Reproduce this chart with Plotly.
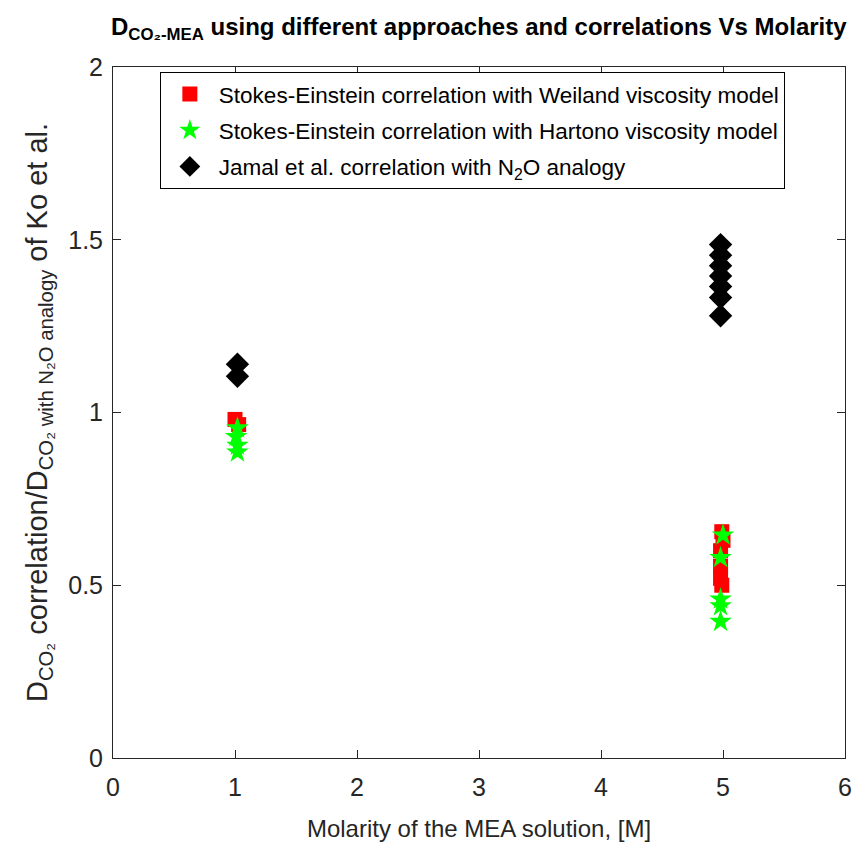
import plotly.graph_objects as go

# Diffusivity ratio of CO2 in MEA, by solution molarity
weiland_molarity = [1.00, 1.03, 4.99, 5.00, 4.98, 4.98, 4.98, 4.99]
weiland_ratio = [0.980, 0.965, 0.655, 0.630, 0.600, 0.555, 0.520, 0.500]

hartono_molarity = [1.02, 1.01, 1.02, 1.02, 5.00, 4.98, 4.98, 4.98, 4.98]
hartono_ratio = [0.955, 0.930, 0.905, 0.885, 0.645, 0.580, 0.460, 0.440, 0.395]

jamal_molarity = [1.02, 1.02, 4.98, 4.98, 4.98, 4.98, 4.98, 4.98, 4.98]
jamal_ratio = [1.140, 1.105, 1.486, 1.455, 1.425, 1.395, 1.365, 1.333, 1.280]

x_ticks = [0, 1, 2, 3, 4, 5, 6]
y_ticks = [0, 0.5, 1, 1.5, 2]
y_tick_text = ["0", "0.5", "1", "1.5", "2"]

FONT = "Liberation Sans, Arial, sans-serif"
AXIS_COLOR = "#262626"

fig = go.Figure()
fig.add_trace(go.Scatter(
    x=weiland_molarity, y=weiland_ratio, mode="markers", legendgroup="w",
    name="Stokes-Einstein correlation with Weiland viscosity model",
    marker=dict(symbol="square", size=15, color="#ff0000", line=dict(width=0)),
))
fig.add_trace(go.Scatter(
    x=hartono_molarity, y=hartono_ratio, mode="markers", legendgroup="h",
    name="Stokes-Einstein correlation with Hartono viscosity model",
    marker=dict(symbol="star", size=17, color="#00ff00", line=dict(width=0)),
))
fig.add_trace(go.Scatter(
    x=jamal_molarity, y=jamal_ratio, mode="markers", legendgroup="j",
    name="Jamal et al. correlation with N<sub>2</sub>O analogy",
    marker=dict(symbol="diamond", size=18, color="#000000", line=dict(width=0)),
))

axis_common = dict(
    showline=True, linecolor=AXIS_COLOR, linewidth=1, mirror="ticks",
    ticks="inside", ticklen=8, tickcolor=AXIS_COLOR, tickwidth=1,
    showgrid=False, zeroline=False, automargin=False,
    tickfont=dict(family=FONT, size=25, color=AXIS_COLOR),
)

fig.update_layout(
    width=855, height=845,
    margin=dict(l=113, r=10, t=67, b=87),
    paper_bgcolor="white", plot_bgcolor="white",
    font=dict(family=FONT, color=AXIS_COLOR),
    title=dict(
        text="<b>D<sub>CO₂-MEA</sub> using different approaches and correlations Vs Molarity</b>",
        font=dict(family="Liberation Sans Narrow, Arial Narrow, Liberation Sans, sans-serif",
                  size=24, color="#000000"),
        x=0.56, xanchor="center", y=0.968, yanchor="middle",
    ),
    xaxis=dict(
        range=[0, 6], tickvals=x_ticks, ticklabelstandoff=7, **axis_common,
        title=dict(text="Molarity of the MEA solution, [M]",
                   font=dict(family=FONT, size=24, color=AXIS_COLOR), standoff=20),
    ),
    yaxis=dict(
        range=[0, 2], tickvals=y_ticks, ticktext=y_tick_text, ticklabelstandoff=4,
        **axis_common,
        title=dict(
            text="D<sub>CO₂</sub> correlation/D<sub>CO₂ with N₂O analogy</sub> of Ko et al.",
            font=dict(family=FONT, size=29, color=AXIS_COLOR), standoff=12),
    ),
    legend=dict(
        x=0.064, y=0.993, xanchor="left", yanchor="top",
        bgcolor="white", bordercolor="#000000", borderwidth=1,
        font=dict(family=FONT, size=22.5, color="#000000"),
        itemwidth=48, tracegroupgap=4,
    ),
    showlegend=True,
)

fig.write_html("out.html")
